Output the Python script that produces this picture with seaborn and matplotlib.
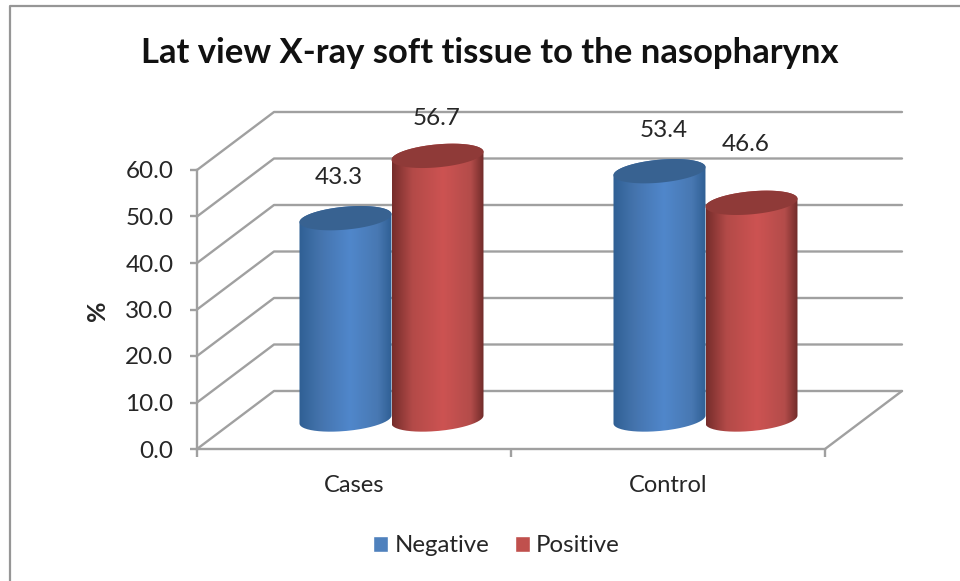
import numpy as np
import pandas as pd
import matplotlib
matplotlib.use("Agg")
import matplotlib.pyplot as plt
import seaborn as sns
from matplotlib.colors import to_rgb, LinearSegmentedColormap
from matplotlib.lines import Line2D
from matplotlib.patches import PathPatch, Polygon
from matplotlib.path import Path

title = "Lat view X-ray soft tissue to the nasopharynx"
groups = ["Cases", "Control"]
series = ["Negative", "Positive"]
negative = [43.3, 53.4]
positive = [56.7, 46.6]
y_ticks = [0, 10, 20, 30, 40, 50, 60]

W, H = 960, 581
GRID = "#a0a0a0"
TEXT = "#262626"
SHADE_AT = (0, 0.22, 0.55, 0.85, 1)
SHADES = {"Negative": ("#2f5f94", "#4473ac", "#5087cb", "#4878b2", "#2f5f94"),
          "Positive": ("#752d2b", "#b34a48", "#cd5352", "#b34c4a", "#6b2927")}
LEGEND = {"Negative": "#4f81bd", "Positive": "#c0504d"}
TOP = {"Negative": "#386291", "Positive": "#8f3a38"}

sns.set_theme(style="white")
plt.rcParams["font.family"] = ["Lato", "DejaVu Sans"]

df = pd.DataFrame({
    "group": groups * 2,
    "kind": [series[0]] * 2 + [series[1]] * 2,
    "value": negative + positive,
})

fig = plt.figure(figsize=(W / 100, H / 100), dpi=100, facecolor="white")
L, R, B, T = 197, 825, 449, 170
ax = fig.add_axes([L / W, 1 - B / H, (R - L) / W, (B - T) / H], facecolor="none")
sns.barplot(data=df, x="group", y="value", hue="kind", palette=LEGEND, hue_order=series,
            order=groups, width=0.586, errorbar=None, ax=ax, dodge=True, saturation=1)
ax.set_xlim(-0.5, 1.5)
ax.set_ylim(0, 60)

px_x = 2 / (R - L)
px_y = 60 / (B - T)
wall_dx, wall_dy = 77 * px_x, 58 * px_y
mid_dx, mid_dy = 37.5 * px_x, 29.5 * px_y

# back wall and floor
line_kw = dict(color=GRID, lw=1.7, clip_on=False, zorder=1, solid_capstyle="round")
for v in y_ticks:
    ax.plot([-0.5, -0.5 + wall_dx, 1.5 + wall_dx], [v, v + wall_dy, v + wall_dy], **line_kw)
ax.plot([1.5, 1.5 + wall_dx], [0, wall_dy], **line_kw)


def gradient(stops):
    cmap = LinearSegmentedColormap.from_list("c", list(zip(SHADE_AT, [to_rgb(c) for c in stops])))
    return cmap(np.linspace(0, 1, 256))[None, :, :3]


def cylinder(x0, w, h, kind):
    xc, rx = x0 + w / 2 + mid_dx, w / 2
    yb, yt = mid_dy, h + mid_dy
    b, tilt = 11.5 * px_y, 4 * px_y
    t1 = np.linspace(np.pi, 2 * np.pi, 80)
    t2 = np.linspace(0, np.pi, 80)
    lower = np.c_[xc + rx * np.cos(t1), yb + b * np.sin(t1) + tilt * np.cos(t1)]
    upper = np.c_[xc + rx * np.cos(t2), yt + b * np.sin(t2) + tilt * np.cos(t2)]
    outline = np.r_[lower, upper, lower[:1]]
    clip = PathPatch(Path(outline), transform=ax.transData, facecolor="none", edgecolor="none")
    ax.add_patch(clip)
    clip.set_clip_on(False)
    img = ax.imshow(gradient(SHADES[kind]), extent=(xc - rx, xc + rx, yb - 5, yt + 5),
                    aspect="auto", interpolation="bilinear", zorder=3)
    img.set_clip_path(clip)
    img.set_clip_box(fig.bbox)
    t3 = np.linspace(0, 2 * np.pi, 160)
    cap = np.c_[xc + rx * np.cos(t3), yt + b * np.sin(t3) + tilt * np.cos(t3)]
    ax.add_patch(Polygon(cap, closed=True, facecolor=TOP[kind], edgecolor="none",
                         zorder=3, clip_on=False))


for container, kind in zip(ax.containers, series):
    for bar in container:
        cylinder(bar.get_x(), bar.get_width(), bar.get_height(), kind)
        bar.set_visible(False)
ax.set_xlim(-0.5, 1.5)
ax.set_ylim(0, 60)

# data labels, as placed by hand in the original chart
label_nudges = {0: [(-7, 41), (-1, 37)], 1: [(4, 41), (-6, 58)]}
for s_i, (container, kind) in enumerate(zip(ax.containers, series)):
    for g_i, bar in enumerate(container):
        nx, ny = label_nudges[g_i][s_i]
        ax.annotate(f"{bar.get_height():.1f}",
                    (bar.get_x() + bar.get_width() / 2 + mid_dx, bar.get_height() + mid_dy),
                    xytext=(nx * 0.72, ny * 0.72), textcoords="offset points",
                    ha="center", va="center", fontsize=17.5, color=TEXT,
                    annotation_clip=False, zorder=5)

# axes
for side in ("top", "right"):
    ax.spines[side].set_visible(False)
for side in ("left", "bottom"):
    ax.spines[side].set_color(GRID)
    ax.spines[side].set_linewidth(1.7)
    ax.spines[side].set_zorder(2)
ax.set_yticks(y_ticks, [f"{v:.1f}" for v in y_ticks])
ax.set_xticks([-0.5, 0.5, 1.5], minor=True)
ax.tick_params(axis="y", left=True, length=5, width=1.7, color=GRID, labelsize=17.5,
               labelcolor=TEXT, pad=12)
ax.tick_params(axis="x", which="major", bottom=False, labelsize=17, labelcolor=TEXT, pad=13)
ax.tick_params(axis="x", which="minor", bottom=True, length=6, width=1.7, color=GRID)
ax.set_xlabel("")
ax.set_ylabel("")
fig.text(97 / W, 1 - 311 / H, "%", rotation=90, fontsize=18, fontweight="bold",
         color=TEXT, ha="center", va="center")
fig.text(490 / W, 1 - 53 / H, title, fontsize=24.9, fontweight="bold", color="#111111",
         ha="center", va="center")

sns.move_legend(ax, "center", bbox_to_anchor=(496.5 / W, 1 - 546 / H),
                bbox_transform=fig.transFigure, ncol=2, frameon=False, title=None,
                fontsize=17.3, handlelength=0.62, handleheight=0.62, columnspacing=1.05,
                handletextpad=0.28, labelcolor=TEXT)

# chart frame
fig.add_artist(Line2D([10 / W, 10 / W, 1], [0, 1 - 6 / H, 1 - 6 / H], color="#969696", lw=1.6))

fig.savefig("out.png", dpi=100)
